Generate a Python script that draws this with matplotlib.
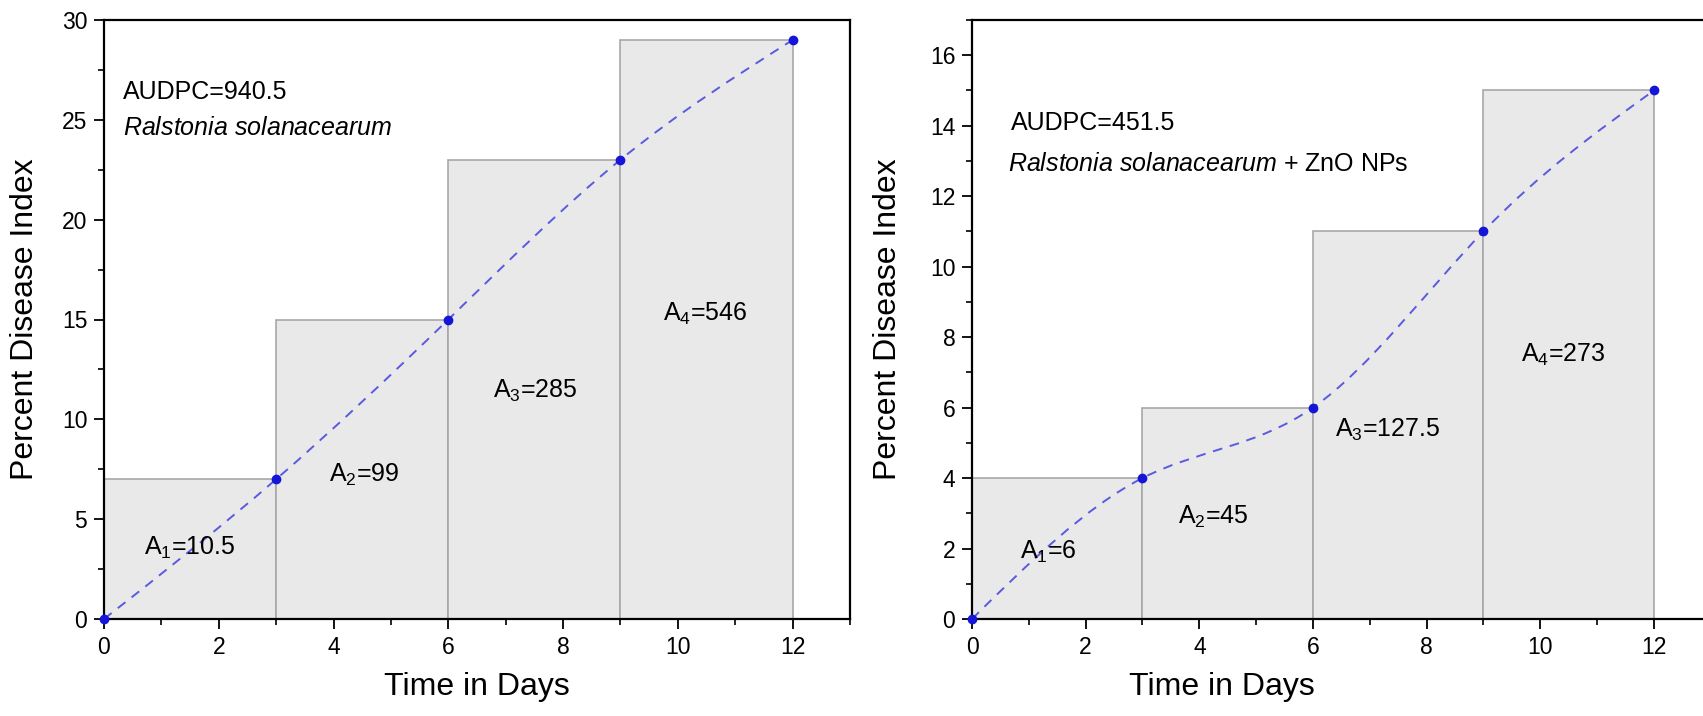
import numpy as np
import matplotlib
matplotlib.use("Agg")
import matplotlib.pyplot as plt
from matplotlib.path import Path
from matplotlib.patches import PathPatch, Rectangle
from matplotlib.ticker import MultipleLocator

plt.rcParams['font.family'] = ['Liberation Sans', 'DejaVu Sans']
plt.rcParams['mathtext.fontset'] = 'custom'
plt.rcParams['mathtext.rm'] = 'Liberation Sans'
plt.rcParams['mathtext.it'] = 'Liberation Sans:italic'

# ---- data ----
days = [0, 3, 6, 9, 12]
pdi_rs = [0, 7, 15, 23, 29]
pdi_zno = [0, 4, 6, 11, 15]
areas_rs = ["10.5", "99", "285", "546"]
areas_zno = ["6", "45", "127.5", "273"]
audpc_rs = "940.5"
audpc_zno = "451.5"
xticks = [0, 2, 4, 6, 8, 10, 12]
yticks_rs = [0, 5, 10, 15, 20, 25, 30]
yticks_zno = [0, 2, 4, 6, 8, 10, 12, 14, 16]


def spline_path(x, y):
    """Natural cubic spline through the points, expressed as Bezier segments."""
    x = np.asarray(x, float); y = np.asarray(y, float)
    n = len(x)
    h = np.diff(x)
    A = np.zeros((n, n)); b = np.zeros(n)
    A[0, 0] = 1; A[-1, -1] = 1
    for i in range(1, n - 1):
        A[i, i - 1] = h[i - 1]; A[i, i] = 2 * (h[i - 1] + h[i]); A[i, i + 1] = h[i]
        b[i] = 6 * ((y[i + 1] - y[i]) / h[i] - (y[i] - y[i - 1]) / h[i - 1])
    M = np.linalg.solve(A, b)
    m = np.zeros(n)
    for i in range(n - 1):
        m[i] = (y[i + 1] - y[i]) / h[i] - h[i] * (2 * M[i] + M[i + 1]) / 6
    m[-1] = (y[-1] - y[-2]) / h[-1] + h[-1] * (M[-2] + 2 * M[-1]) / 6
    verts = [(x[0], y[0])]; codes = [Path.MOVETO]
    for i in range(n - 1):
        verts += [(x[i] + h[i] / 3, y[i] + m[i] * h[i] / 3),
                  (x[i + 1] - h[i] / 3, y[i + 1] - m[i + 1] * h[i] / 3),
                  (x[i + 1], y[i + 1])]
        codes += [Path.CURVE4] * 3
    return Path(verts, codes)


def panel(ax, y, areas, ylim, yticks, yminor, audpc, species_extra, txt_pos, area_pos):
    for i in range(len(days) - 1):
        ax.add_patch(Rectangle((days[i], 0), days[i + 1] - days[i], y[i + 1],
                               facecolor='#e9e9e9', edgecolor='#a8a8a8', lw=1.2, zorder=1))
    ax.add_patch(PathPatch(spline_path(days, y), fill=False, edgecolor='#5a5ae0',
                           lw=1.4, linestyle=(0, (5, 4)), zorder=3))
    ax.plot(days, y, 'o', color='#1515d8', ms=6, zorder=4, clip_on=False)
    ax.set_xlim(0, 13)
    ax.set_ylim(*ylim)
    ax.set_xticks(xticks)
    ax.set_yticks(yticks)
    ax.xaxis.set_minor_locator(MultipleLocator(1))
    ax.yaxis.set_minor_locator(MultipleLocator(yminor))
    ax.tick_params(which='major', direction='out', length=7, width=1.3, labelsize=16.5, pad=5)
    ax.tick_params(which='minor', direction='out', length=4, width=1.2)
    for s in ax.spines.values():
        s.set_linewidth(1.6)
    ax.set_xlabel('Time in Days', fontsize=23)
    ax.set_ylabel('Percent Disease Index', fontsize=23)
    (ax1x, ax1y), (ax2x, ax2y) = txt_pos
    ax.text(ax1x, ax1y, 'AUDPC=' + audpc, fontsize=18, va='center', ha='left')
    ax.text(ax2x, ax2y, r'$\it{Ralstonia\ solanacearum}$' + species_extra,
            fontsize=18, va='center', ha='left')
    for k, (a, (px, py)) in enumerate(zip(areas, area_pos)):
        ax.text(px, py, r'A$_{%d}$=%s' % (k + 1, a), fontsize=18, ha='center', va='center', zorder=5)


fig = plt.figure(figsize=(17.03, 7.16), dpi=100)
axL = fig.add_axes([104 / 1703, 1 - 619 / 716, (850 - 104) / 1703, (619 - 20) / 716])
axR = fig.add_axes([972 / 1703, 1 - 619 / 716, 13 * 56.83 / 1703, (619 - 20) / 716])

panel(axL, pdi_rs, areas_rs, (0, 30), yticks_rs, 2.5, audpc_rs, '',
      [(0.33, 26.4), (0.33, 24.6)],
      [(1.5, 3.55), (4.54, 7.2), (7.52, 11.4), (10.47, 15.3)])
panel(axR, pdi_zno, areas_zno, (0, 17), yticks_zno, 1, audpc_zno, ' + ZnO NPs',
      [(0.69, 14.07), (0.63, 12.9)],
      [(1.34, 1.9), (4.24, 2.9), (7.32, 5.36), (10.4, 7.5)])

axL.yaxis.set_label_coords(-(104 - 40) / 746, 0.5)
axR.yaxis.set_label_coords(-(972 - 903) / (13 * 56.83), 0.5)
axL.xaxis.set_label_coords(0.5, -(672 - 619) / 599)
axR.xaxis.set_label_coords((1222 - 972) / (13 * 56.83), -(672 - 619) / 599)

fig.savefig('out.png', dpi=100)
